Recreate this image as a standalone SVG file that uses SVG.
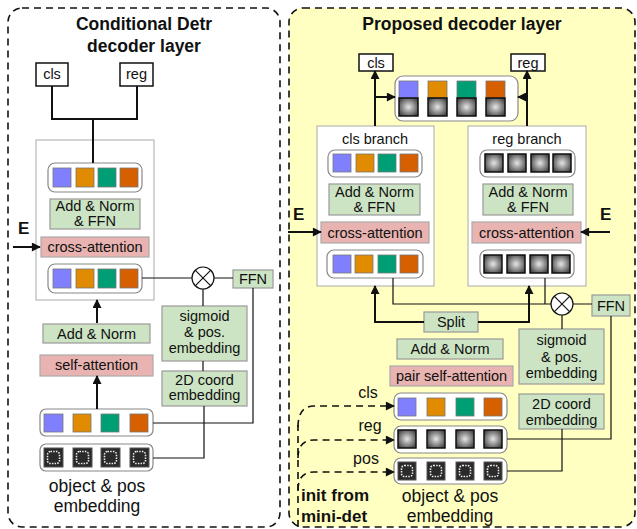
<svg xmlns="http://www.w3.org/2000/svg" width="637" height="529" viewBox="0 0 637 529">
<style>
text{font-family:"Liberation Sans",Arial,sans-serif;fill:#111}
.t{font-size:14.5px;text-anchor:middle}
.ti{font-size:17.5px;font-weight:bold;text-anchor:middle}
.big{font-size:17.5px;text-anchor:middle}
.lbl{font-size:16px;text-anchor:middle}
.bold{font-size:17px;font-weight:bold}
.panel{stroke:#111;stroke-width:1.6;stroke-dasharray:7 5}
.out{fill:#fff;stroke:#111;stroke-width:1.5}
.frame{fill:#fff;stroke:#aaa;stroke-width:1}
.row{fill:#fff;stroke:#888;stroke-width:1.2}
.g{fill:#cce4c3;stroke:#999;stroke-width:1.2}
.p{fill:#e8b3b0;stroke:#aaa;stroke-width:1.2}
.c1{fill:#8080ff;stroke:#777;stroke-width:.8}
.c2{fill:#e08b00;stroke:#777;stroke-width:.8}
.c3{fill:#009e74;stroke:#777;stroke-width:.8}
.c4{fill:#d65f00;stroke:#777;stroke-width:.8}
.gr{fill:url(#rg);stroke:#111;stroke-width:1.5}
.ps{fill:#2a2a2a;stroke:#555;stroke-width:1}
.psi{fill:none;stroke:#eee;stroke-width:1.6;stroke-dasharray:1.5 1.2}
.ln{fill:none;stroke:#111;stroke-width:1.2}
.th{fill:none;stroke:#111;stroke-width:2}
.ah{fill:none;stroke:#111;stroke-width:2;marker-end:url(#ar)}
.da{fill:none;stroke:#111;stroke-width:1.6;stroke-dasharray:7 5}
.dah{fill:none;stroke:#111;stroke-width:1.6;stroke-dasharray:7 5;marker-end:url(#ar)}
.ox{fill:#fff;stroke:#111;stroke-width:1.2}
</style>
<defs>
<radialGradient id="rg" cx="50%" cy="50%" r="60%">
<stop offset="0" stop-color="#e6e6e6"/>
<stop offset="1" stop-color="#444"/>
</radialGradient>
<marker id="ar" viewBox="0 0 10 10" refX="9" refY="5" markerWidth="10" markerHeight="9" markerUnits="userSpaceOnUse" orient="auto">
<path d="M0,0 L10,5 L0,10 z" fill="#111"/>
</marker>
</defs>

<!-- panels -->
<rect id="panel-left" x="8" y="8" width="272" height="519" rx="14" fill="#fff" class="panel"/>
<rect id="panel-right" x="289" y="8" width="346" height="519" rx="14" fill="#ffffc2" class="panel"/>

<!-- ================= LEFT PANEL ================= -->
<g id="left-title">
<text class="ti" x="144" y="30">Conditional Detr</text>
<text class="ti" x="144" y="52">decoder layer</text>
</g>
<g id="l-cls"><rect class="out" x="36" y="63" width="32" height="23"/><text class="t" x="52" y="79">cls</text></g>
<g id="l-reg"><rect class="out" x="120" y="63" width="33" height="23"/><text class="t" x="136.5" y="79">reg</text></g>
<g id="l-frame"><rect class="frame" x="36" y="140" width="118" height="160"/></g>
<g id="l-row1">
<rect class="row" x="48" y="163" width="94" height="29" rx="7"/>
<rect class="c1" x="53" y="168" width="18" height="19"/>
<rect class="c2" x="76" y="168" width="18" height="19"/>
<rect class="c3" x="98" y="168" width="18" height="19"/>
<rect class="c4" x="120" y="168" width="18" height="19"/>
</g>
<g id="l-addnormffn"><rect class="g" x="50" y="199" width="90" height="30"/>
<text class="t" x="95" y="211">Add &amp; Norm</text><text class="t" x="95" y="226">&amp; FFN</text></g>
<g id="l-E"><text class="bold" x="18" y="234">E</text></g>
<g id="l-cross"><rect class="p" x="41" y="237" width="108" height="20"/><text class="t" x="95" y="252">cross-attention</text></g>
<g id="l-row2">
<rect class="row" x="48" y="264" width="94" height="29" rx="7"/>
<rect class="c1" x="53" y="269" width="18" height="19"/>
<rect class="c2" x="76" y="269" width="18" height="19"/>
<rect class="c3" x="98" y="269" width="18" height="19"/>
<rect class="c4" x="120" y="269" width="18" height="19"/>
</g>
<g id="l-mul"><circle class="ox" cx="203" cy="278" r="11"/><path class="ln" d="M195.2,270.2 L210.8,285.8 M210.8,270.2 L195.2,285.8"/></g>
<g id="l-ffn"><rect class="g" x="233" y="270" width="40" height="18"/><text class="t" x="253" y="284">FFN</text></g>
<g id="l-sigmoid"><rect class="g" x="162" y="306" width="85" height="55"/>
<text class="t" x="204.5" y="321">sigmoid</text><text class="t" x="204.5" y="337">&amp; pos.</text><text class="t" x="204.5" y="353">embedding</text></g>
<g id="l-2d"><rect class="g" x="162" y="371" width="85" height="35"/>
<text class="t" x="204.5" y="385">2D coord</text><text class="t" x="204.5" y="400">embedding</text></g>
<g id="l-addnorm"><rect class="g" x="43" y="324" width="107" height="19"/><text class="t" x="96.5" y="339">Add &amp; Norm</text></g>
<g id="l-selfatt"><rect class="p" x="40" y="355" width="113" height="21"/><text class="t" x="96.5" y="370">self-attention</text></g>
<g id="l-obj">
<rect class="row" x="40" y="409" width="113" height="27" rx="6"/>
<rect class="c1" x="44" y="414" width="19" height="18"/>
<rect class="c2" x="73" y="414" width="18" height="18"/>
<rect class="c3" x="101" y="414" width="18" height="18"/>
<rect class="c4" x="130" y="414" width="18" height="18"/>
</g>
<g id="l-pos">
<rect class="row" x="40" y="444" width="113" height="27" rx="6"/>
<rect class="ps" x="44" y="448" width="19" height="19"/><rect class="psi" x="47.5" y="451.5" width="12" height="12" rx="3"/>
<rect class="ps" x="73" y="448" width="19" height="19"/><rect class="psi" x="76.5" y="451.5" width="12" height="12" rx="3"/>
<rect class="ps" x="101" y="448" width="19" height="19"/><rect class="psi" x="104.5" y="451.5" width="12" height="12" rx="3"/>
<rect class="ps" x="130" y="448" width="19" height="19"/><rect class="psi" x="133.5" y="451.5" width="12" height="12" rx="3"/>
</g>
<g id="l-objlabel"><text class="big" x="97" y="492">object &amp; pos</text><text class="big" x="97" y="512">embedding</text></g>

<!-- ================= RIGHT PANEL ================= -->
<g id="right-title"><text class="ti" x="462" y="30">Proposed decoder layer</text></g>
<g id="r-cls"><rect class="out" x="359" y="54" width="34" height="17"/><text class="t" x="376" y="67.5">cls</text></g>
<g id="r-reg"><rect class="out" x="511" y="54" width="34" height="17"/><text class="t" x="528" y="67.5">reg</text></g>
<g id="r-merged">
<rect class="row" x="395" y="76" width="123" height="45" rx="8"/>
<rect class="c1" x="399" y="81" width="19" height="17"/><rect class="gr" x="399" y="98" width="19" height="18"/>
<rect class="c2" x="428" y="81" width="19" height="17"/><rect class="gr" x="428" y="98" width="19" height="18"/>
<rect class="c3" x="457" y="81" width="19" height="17"/><rect class="gr" x="457" y="98" width="19" height="18"/>
<rect class="c4" x="486" y="81" width="19" height="17"/><rect class="gr" x="486" y="98" width="19" height="18"/>
</g>
<g id="r-clsbranch">
<rect class="frame" x="317" y="126" width="117" height="160"/>
<text class="t" x="375" y="144">cls branch</text>
<rect class="row" x="328" y="150" width="94" height="27" rx="7"/>
<rect class="c1" x="333" y="154" width="18" height="18"/>
<rect class="c2" x="356" y="154" width="18" height="18"/>
<rect class="c3" x="378" y="154" width="18" height="18"/>
<rect class="c4" x="400" y="154" width="18" height="18"/>
<rect class="g" x="329" y="184" width="91" height="31"/>
<text class="t" x="374.5" y="197">Add &amp; Norm</text><text class="t" x="374.5" y="212">&amp; FFN</text>
<rect class="p" x="321" y="222" width="108" height="21"/><text class="t" x="375" y="237.5">cross-attention</text>
<rect class="row" x="327" y="250" width="96" height="28" rx="7"/>
<rect class="c1" x="333" y="255" width="18" height="18"/>
<rect class="c2" x="355" y="255" width="18" height="18"/>
<rect class="c3" x="378" y="255" width="18" height="18"/>
<rect class="c4" x="400" y="255" width="18" height="18"/>
</g>
<g id="r-regbranch">
<rect class="frame" x="468" y="126" width="118" height="160"/>
<text class="t" x="527" y="144">reg branch</text>
<rect class="row" x="480" y="150" width="95" height="27" rx="7"/>
<rect class="gr" x="485" y="154" width="18" height="18"/>
<rect class="gr" x="508" y="154" width="18" height="18"/>
<rect class="gr" x="531" y="154" width="18" height="18"/>
<rect class="gr" x="553" y="154" width="18" height="18"/>
<rect class="g" x="483" y="184" width="90" height="31"/>
<text class="t" x="528" y="197">Add &amp; Norm</text><text class="t" x="528" y="212">&amp; FFN</text>
<rect class="p" x="472" y="222" width="109" height="21"/><text class="t" x="526.5" y="237.5">cross-attention</text>
<rect class="row" x="480" y="250" width="94" height="28" rx="7"/>
<rect class="gr" x="484" y="255" width="18" height="18"/>
<rect class="gr" x="507" y="255" width="18" height="18"/>
<rect class="gr" x="530" y="255" width="18" height="18"/>
<rect class="gr" x="552" y="255" width="18" height="18"/>
</g>
<g id="r-E1"><text class="bold" x="293" y="220">E</text></g>
<g id="r-E2"><text class="bold" x="600" y="220">E</text></g>
<g id="r-mul"><circle class="ox" cx="562" cy="304" r="11"/><path class="ln" d="M554.2,296.2 L569.8,311.8 M569.8,296.2 L554.2,311.8"/></g>
<g id="r-ffn"><rect class="g" x="592" y="295" width="38" height="21"/><text class="t" x="611" y="310.5">FFN</text></g>
<g id="r-split"><rect class="g" x="424" y="312" width="54" height="20"/><text class="t" x="451" y="327">Split</text></g>
<g id="r-sigmoid"><rect class="g" x="519" y="329" width="85" height="55"/>
<text class="t" x="561.5" y="345">sigmoid</text><text class="t" x="561.5" y="362">&amp; pos.</text><text class="t" x="561.5" y="378">embedding</text></g>
<g id="r-2d"><rect class="g" x="519" y="394" width="85" height="35"/>
<text class="t" x="561.5" y="409">2D coord</text><text class="t" x="561.5" y="425">embedding</text></g>
<g id="r-addnorm"><rect class="g" x="397" y="339" width="106" height="20"/><text class="t" x="450" y="354">Add &amp; Norm</text></g>
<g id="r-pairatt"><rect class="p" x="390" y="366" width="123" height="20"/><text class="t" x="451.5" y="381">pair self-attention</text></g>
<g id="r-clsrow">
<rect class="row" x="394" y="393" width="113" height="27" rx="7"/>
<rect class="c1" x="398" y="398" width="18" height="18"/>
<rect class="c2" x="427" y="398" width="18" height="18"/>
<rect class="c3" x="456" y="398" width="18" height="18"/>
<rect class="c4" x="484" y="398" width="18" height="18"/>
</g>
<g id="r-regrow">
<rect class="row" x="394" y="426" width="113" height="27" rx="7"/>
<rect class="gr" x="398" y="430" width="18" height="18"/>
<rect class="gr" x="427" y="430" width="18" height="18"/>
<rect class="gr" x="456" y="430" width="18" height="18"/>
<rect class="gr" x="484" y="430" width="18" height="18"/>
</g>
<g id="r-posrow">
<rect class="row" x="394" y="458" width="113" height="26" rx="7"/>
<rect class="ps" x="398" y="462" width="18" height="18"/><rect class="psi" x="401.5" y="465.5" width="11" height="11" rx="3"/>
<rect class="ps" x="427" y="462" width="18" height="18"/><rect class="psi" x="430.5" y="465.5" width="11" height="11" rx="3"/>
<rect class="ps" x="456" y="462" width="18" height="18"/><rect class="psi" x="459.5" y="465.5" width="11" height="11" rx="3"/>
<rect class="ps" x="484" y="462" width="18" height="18"/><rect class="psi" x="487.5" y="465.5" width="11" height="11" rx="3"/>
</g>
<g id="r-rowlabels">
<text class="lbl" x="368" y="398">cls</text>
<text class="lbl" x="370" y="431">reg</text>
<text class="lbl" x="366" y="464">pos</text>
</g>
<g id="r-objlabel"><text class="big" x="450" y="502">object &amp; pos</text><text class="big" x="450" y="522">embedding</text></g>
<g id="r-init"><text class="bold" x="301" y="501">init from</text><text class="bold" x="301" y="522">mini-det</text></g>

<!-- ================= CONNECTORS ================= -->
<g id="connectors">
<!-- left -->
<path class="th" d="M52,86 V119 H137 V86 M93,119 V163"/>
<path class="ah" d="M13,247 H40"/>
<path class="ln" d="M142,278 H192 M214,278 H233 M203,289 V306 M203,361 V371"/>
<path class="ln" d="M153,423 H253 V288"/>
<path class="ln" d="M153,458 H204 V406"/>
<path class="ah" d="M97,323 V300"/>
<path class="ah" d="M97,409 V376"/>
<!-- right -->
<path class="ah" d="M375,126 V71"/>
<path class="ah" d="M375,97 H395"/>
<path class="ah" d="M527,126 V71"/>
<path class="ah" d="M527,97 H518"/>
<path class="ah" d="M288,232 H321"/>
<path class="ah" d="M610,232 H581"/>
<path class="ln" d="M393,278 V304 H551 M545,278 V304 M573,304 H592 M562,315 V329"/>
<path class="ah" d="M424,322 H375 V286"/>
<path class="ah" d="M478,322 H529 V286"/>
<path class="ln" d="M611,316 V439 H507"/>
<path class="ln" d="M562,429 V471 H507"/>
<path class="da" d="M298,527 V425"/>
<path class="dah" d="M298,427 Q298,406 314,406 H394"/>
<path class="dah" d="M298,458 Q298,440 314,440 H394"/>
<path class="dah" d="M298,490 Q298,472 314,472 H394"/>
</g>
</svg>
